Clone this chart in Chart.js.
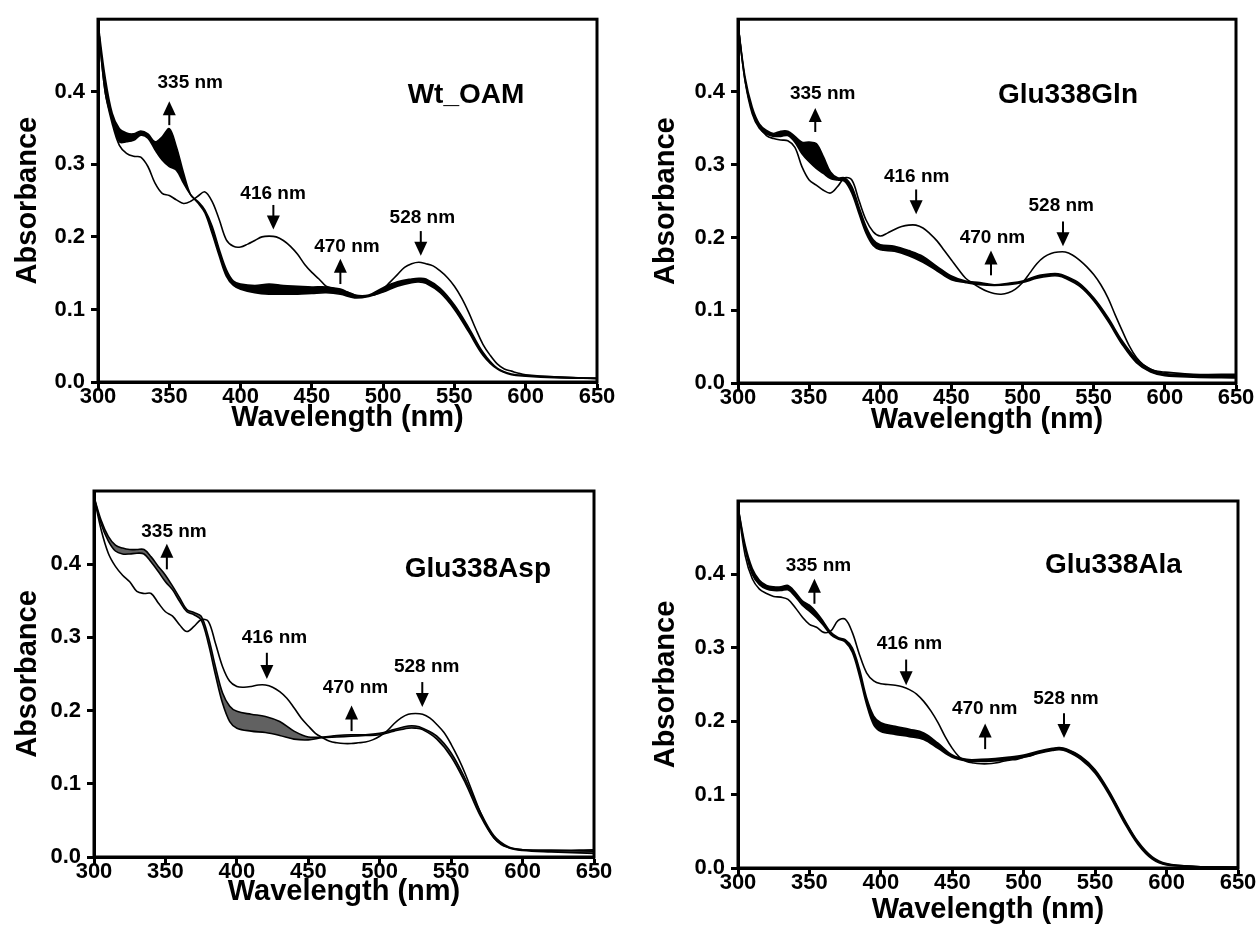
<!DOCTYPE html>
<html>
<head>
<meta charset="utf-8">
<script src="https://cdn.jsdelivr.net/npm/chart.js@4.4.1/dist/chart.umd.min.js"></script>
<style>
html,body{margin:0;padding:0;background:#fff;overflow:hidden;width:1258px;height:941px;}
canvas{position:absolute;}
</style>
</head>
<body>
<canvas id="c1"></canvas>
<canvas id="c2"></canvas>
<canvas id="c3"></canvas>
<canvas id="c4"></canvas>
<script>
// ---------- DATA ----------
const WL_THIN = [300,305,310,315,320,325,330,335,340,345,350,355,360,365,370,375,380,385,390,395,
  400,405,410,415,420,425,430,435,440,445,450,455,460,465,470,475,480,485,490,495,
  500,505,510,515,520,525,530,535,540,545,550,555,560,565,570,575,580,585,590,595,600,620,650];
const WL_BAND = [300,305,310,315,320,325,330,335,340,345,350,355,360,365,370,375,380,385,390,395,
  400,410,420,430,440,450,460,470,480,490,500,510,520,525,530,540,550,560,570,580,590,600,620,650];

const X_TICKS = [300,350,400,450,500,550,600,650];
const Y_TICKS = [0.0,0.1,0.2,0.3,0.4];

// Panel 1 : Wt_OAM
const P1_INITIAL = [0.495,0.400,0.356,0.326,0.315,0.311,0.310,0.297,0.274,0.260,0.257,0.251,0.246,0.249,0.256,0.262,0.249,0.224,0.196,0.187,
  0.186,0.190,0.195,0.200,0.201,0.200,0.195,0.187,0.176,0.162,0.151,0.142,0.132,0.129,0.126,0.124,0.120,0.117,0.119,0.121,
  0.128,0.138,0.148,0.158,0.163,0.165,0.163,0.160,0.153,0.144,0.132,0.116,0.096,0.073,0.052,0.037,0.025,0.018,0.015,0.012,0.010,0.007,0.005];
const P1_BAND_HIGH = [0.495,0.420,0.370,0.349,0.343,0.342,0.346,0.342,0.331,0.338,0.349,0.324,0.288,0.258,0.249,0.237,0.215,0.183,0.155,0.139,
  0.135,0.133,0.135,0.133,0.132,0.131,0.131,0.128,0.120,0.120,0.130,0.138,0.142,0.143,0.142,0.129,0.106,0.075,0.041,0.019,0.011,0.009,0.007,0.005];
const P1_BAND_LOW = [0.495,0.400,0.361,0.331,0.331,0.333,0.340,0.336,0.320,0.306,0.297,0.292,0.274,0.258,0.247,0.233,0.205,0.174,0.146,0.133,
  0.128,0.123,0.121,0.121,0.121,0.122,0.123,0.121,0.116,0.118,0.124,0.132,0.137,0.138,0.136,0.123,0.100,0.069,0.037,0.018,0.010,0.008,0.006,0.005];

// Panel 2 : Glu338Gln
const P2_INITIAL = [0.493,0.415,0.374,0.352,0.340,0.336,0.334,0.333,0.324,0.297,0.279,0.272,0.265,0.261,0.270,0.282,0.279,0.251,0.224,0.208,
  0.202,0.206,0.211,0.215,0.217,0.217,0.213,0.205,0.195,0.182,0.169,0.156,0.144,0.137,0.131,0.126,0.123,0.122,0.124,0.129,
  0.138,0.151,0.164,0.173,0.178,0.180,0.180,0.176,0.169,0.160,0.149,0.135,0.117,0.094,0.072,0.051,0.035,0.025,0.019,0.016,0.015,0.012,0.012];
const P2_BAND_HIGH = [0.493,0.420,0.379,0.356,0.347,0.343,0.346,0.346,0.339,0.331,0.331,0.329,0.311,0.290,0.282,0.282,0.270,0.242,0.215,0.197,
  0.190,0.188,0.182,0.174,0.160,0.147,0.140,0.138,0.135,0.137,0.140,0.147,0.150,0.150,0.147,0.137,0.117,0.090,0.058,0.033,0.019,0.013,0.011,0.010];
const P2_BAND_LOW = [0.493,0.415,0.370,0.350,0.342,0.339,0.339,0.340,0.331,0.315,0.304,0.295,0.288,0.281,0.279,0.277,0.261,0.233,0.206,0.189,
  0.183,0.181,0.175,0.166,0.154,0.142,0.138,0.135,0.134,0.135,0.138,0.144,0.147,0.147,0.144,0.133,0.113,0.085,0.053,0.028,0.015,0.010,0.008,0.007];

// Panel 3 : Glu338Asp
const P3_INITIAL = [0.492,0.447,0.415,0.397,0.385,0.376,0.363,0.360,0.360,0.347,0.335,0.329,0.317,0.308,0.315,0.324,0.322,0.292,0.260,0.240,
  0.233,0.232,0.233,0.235,0.235,0.232,0.226,0.217,0.204,0.190,0.179,0.169,0.163,0.158,0.156,0.155,0.155,0.156,0.157,0.160,
  0.165,0.172,0.182,0.190,0.195,0.196,0.195,0.190,0.181,0.170,0.154,0.135,0.113,0.088,0.063,0.042,0.026,0.017,0.013,0.011,0.010,0.009,0.008];
const P3_BAND_HIGH = [0.492,0.460,0.438,0.426,0.422,0.420,0.420,0.420,0.410,0.397,0.385,0.370,0.354,0.338,0.334,0.329,0.301,0.260,0.224,0.206,
  0.199,0.195,0.192,0.185,0.172,0.164,0.164,0.166,0.167,0.167,0.169,0.174,0.179,0.179,0.176,0.165,0.142,0.106,0.063,0.029,0.014,0.010,0.009,0.010];
const P3_BAND_LOW = [0.492,0.455,0.432,0.418,0.414,0.414,0.415,0.414,0.403,0.390,0.376,0.365,0.349,0.335,0.331,0.324,0.292,0.249,0.210,0.185,
  0.176,0.172,0.170,0.166,0.161,0.160,0.163,0.164,0.165,0.166,0.167,0.172,0.176,0.176,0.174,0.161,0.137,0.101,0.058,0.026,0.013,0.009,0.007,0.005];

// Panel 4 : Glu338Ala
const P4_INITIAL = [0.492,0.426,0.394,0.380,0.374,0.370,0.369,0.366,0.355,0.342,0.332,0.328,0.321,0.323,0.337,0.339,0.321,0.291,0.266,0.255,
  0.251,0.250,0.249,0.247,0.243,0.237,0.227,0.214,0.198,0.179,0.163,0.151,0.145,0.143,0.142,0.142,0.143,0.145,0.147,0.148,
  0.151,0.153,0.157,0.159,0.161,0.163,0.161,0.157,0.151,0.143,0.132,0.118,0.102,0.085,0.066,0.050,0.034,0.022,0.014,0.008,0.005,0.002,0.001];
const P4_BAND_HIGH = [0.492,0.440,0.408,0.392,0.385,0.383,0.383,0.385,0.376,0.364,0.358,0.348,0.335,0.321,0.314,0.311,0.300,0.271,0.232,0.207,
  0.198,0.193,0.189,0.184,0.170,0.154,0.148,0.148,0.149,0.151,0.154,0.159,0.163,0.164,0.162,0.152,0.134,0.104,0.068,0.036,0.015,0.006,0.002,0.001];
const P4_BAND_LOW = [0.492,0.435,0.400,0.386,0.380,0.378,0.378,0.379,0.370,0.358,0.350,0.341,0.330,0.318,0.312,0.308,0.294,0.262,0.223,0.195,
  0.186,0.182,0.179,0.175,0.163,0.151,0.146,0.145,0.146,0.148,0.151,0.156,0.160,0.161,0.159,0.148,0.129,0.099,0.063,0.032,0.012,0.004,0.002,0.001];

const PANEL_NAMES = ['Wt_OAM','Glu338Gln','Glu338Asp','Glu338Ala'];

// annotation anchors, in data units (wavelength nm, absorbance)
const P1_LABELS = [['335 nm',364.7,0.412],['416 nm',422.8,0.260],['470 nm',474.6,0.186],['528 nm',527.5,0.226]];
const P1_ARROWS = [[350,0.354,0.387],[423,0.244,0.210],[470,0.135,0.170],[526.4,0.208,0.174]];
const P2_LABELS = [['335 nm',359.5,0.397],['416 nm',425.6,0.283],['470 nm',478.8,0.200],['528 nm',527.2,0.243]];
const P2_ARROWS = [[354.3,0.345,0.378],[425.2,0.266,0.232],[477.8,0.148,0.182],[528.4,0.222,0.188]];
const P3_LABELS = [['335 nm',356,0.444],['416 nm',426.3,0.299],['470 nm',483,0.231],['528 nm',532.9,0.260]];
const P3_ARROWS = [[351,0.393,0.428],[421,0.279,0.243],[480.3,0.172,0.207],[529.8,0.239,0.205]];
const P4_LABELS = [['335 nm',356.3,0.412],['416 nm',420,0.306],['470 nm',472.7,0.217],['528 nm',529.6,0.231]];
const P4_ARROWS = [[353.5,0.360,0.394],[417.7,0.284,0.249],[473,0.162,0.197],[528.2,0.211,0.177]];
const NAME_ANCHORS = [[558.1,0.395],[531.9,0.395],[568.7,0.393],[562.8,0.412]];

// ---------- LAYOUT (pixels) ----------
const FONT = "'Liberation Sans', Arial, Helvetica, sans-serif";
Chart.defaults.font.family = FONT;
Chart.defaults.color = '#000';

const LAYOUTS = [
  {id:'c1', left:0,   top:0,   w:640, h:440, area:{l:98,  t:15, r:597, b:382}, yTitleX:28, xTitleY:418, bandFill:'#000'},
  {id:'c2', left:629, top:0,   w:640, h:440, area:{l:109, t:18, r:607, b:383}, yTitleX:37, xTitleY:420, bandFill:'#000'},
  {id:'c3', left:0,   top:470, w:640, h:460, area:{l:94,  t:21, r:594, b:387}, yTitleX:28, xTitleY:422, bandFill:'rgba(0,0,0,0.62)'},
  {id:'c4', left:629, top:470, w:640, h:471, area:{l:109, t:31, r:609, b:398}, yTitleX:37, xTitleY:440, bandFill:'#000'}
];

const PANELS = [
  {init:P1_INITIAL, hi:P1_BAND_HIGH, lo:P1_BAND_LOW, labels:P1_LABELS, arrows:P1_ARROWS},
  {init:P2_INITIAL, hi:P2_BAND_HIGH, lo:P2_BAND_LOW, labels:P2_LABELS, arrows:P2_ARROWS},
  {init:P3_INITIAL, hi:P3_BAND_HIGH, lo:P3_BAND_LOW, labels:P3_LABELS, arrows:P3_ARROWS},
  {init:P4_INITIAL, hi:P4_BAND_HIGH, lo:P4_BAND_LOW, labels:P4_LABELS, arrows:P4_ARROWS}
];

function pts(xs, ys){ return xs.map((x,i)=>({x:x, y:ys[i]})); }

function makeOverlay(idx){
  return {
    id:'overlay'+idx,
    afterDatasetsDraw(chart){
      const ctx = chart.ctx, xs = chart.scales.x, ys = chart.scales.y, a = chart.chartArea;
      const p = PANELS[idx];
      ctx.save();
      // frame
      ctx.strokeStyle = '#000'; ctx.lineWidth = 3;
      ctx.strokeRect(a.left, a.top, a.right - a.left, a.bottom - a.top);
      // arrows
      ctx.fillStyle = '#000'; ctx.lineWidth = 2;
      p.arrows.forEach(([wl, from, to])=>{
        const x = xs.getPixelForValue(wl);
        const y0 = ys.getPixelForValue(from), y1 = ys.getPixelForValue(to);
        const dir = y1 < y0 ? -1 : 1;
        const headLen = 14, headHalf = 6.5;
        ctx.beginPath(); ctx.moveTo(x, y0); ctx.lineTo(x, y1 - dir*headLen*0.6); ctx.stroke();
        ctx.beginPath(); ctx.moveTo(x, y1); ctx.lineTo(x - headHalf, y1 - dir*headLen); ctx.lineTo(x + headHalf, y1 - dir*headLen); ctx.closePath(); ctx.fill();
      });
      // labels
      ctx.textAlign = 'center'; ctx.textBaseline = 'middle';
      ctx.font = 'bold 19px ' + FONT;
      p.labels.forEach(([t, wl, v])=>{
        ctx.fillText(t, xs.getPixelForValue(wl), ys.getPixelForValue(v));
      });
      ctx.font = 'bold 28px ' + FONT;
      const na = NAME_ANCHORS[idx];
      ctx.fillText(PANEL_NAMES[idx], xs.getPixelForValue(na[0]), ys.getPixelForValue(na[1]));
      ctx.restore();
    }
  };
}

LAYOUTS.forEach((L, idx)=>{
  const cv = document.getElementById(L.id);
  cv.width = L.w; cv.height = L.h;
  cv.style.left = L.left + 'px'; cv.style.top = L.top + 'px';
  cv.style.width = L.w + 'px'; cv.style.height = L.h + 'px';
  const p = PANELS[idx];
  const yAxisW = L.area.l, xAxisH = L.h - L.area.b;
  new Chart(cv, {
    type:'line',
    data:{
      datasets:[
        {data:pts(WL_THIN, p.init), borderColor:'#000', borderWidth:1.6, pointRadius:0, tension:0.35, fill:false},
        {data:pts(WL_BAND, p.hi), borderColor:'#000', borderWidth:1.6, pointRadius:0, tension:0.35, fill:false},
        {data:pts(WL_BAND, p.lo), borderColor:'#000', borderWidth:1.6, pointRadius:0, tension:0.35, fill:'-1', backgroundColor:L.bandFill}
      ]
    },
    options:{
      responsive:false, animation:false, devicePixelRatio:1,
      layout:{padding:{left:0, top:L.area.t, right:L.w - L.area.r, bottom:0}},
      plugins:{legend:{display:false}, tooltip:{enabled:false}},
      scales:{
        x:{
          type:'linear', min:300, max:650,
          afterBuildTicks(s){ s.ticks = X_TICKS.map(v=>({value:v})); },
          afterFit(s){ s.height = xAxisH; },
          ticks:{font:{size:22, weight:'bold', lineHeight:1.0}, color:'#000', padding:-3, maxRotation:0, autoSkip:false,
                 callback:v=>String(v)},
          grid:{display:true, drawOnChartArea:false, drawTicks:true, tickLength:7, tickWidth:3, tickColor:'#000'},
          border:{display:true, width:3, color:'#000'},
          title:{display:true, text:'Wavelength (nm)', color:'#000', font:{size:29, weight:'bold'},
                 padding:{top:0, bottom: (L.h - L.xTitleY) - 17.4}}
        },
        y:{
          type:'linear', min:0, max:0.5,
          afterBuildTicks(s){ s.ticks = Y_TICKS.map(v=>({value:v})); },
          afterFit(s){ s.width = yAxisW; },
          ticks:{font:{size:22, weight:'bold'}, color:'#000', padding:6, autoSkip:false,
                 callback:v=>Number(v).toFixed(1)},
          grid:{display:true, drawOnChartArea:false, drawTicks:true, tickLength:7, tickWidth:3, tickColor:'#000'},
          border:{display:true, width:3, color:'#000'},
          title:{display:true, text:'Absorbance', color:'#000', font:{size:29, weight:'bold'},
                 padding:{top: L.yTitleX - 17.4, bottom:0}}
        }
      }
    },
    plugins:[makeOverlay(idx)]
  });
});
</script>
</body>
</html>
